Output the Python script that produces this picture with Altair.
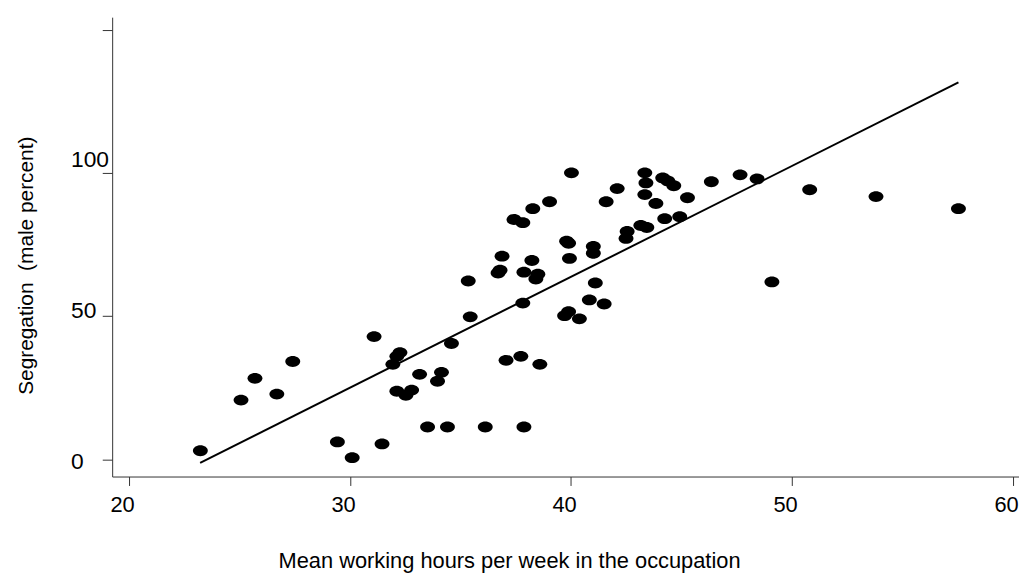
import altair as alt
import pandas as pd

# Mean working hours per week (x) and segregation, male percent (y)
hours = [23.23, 25.07, 25.70, 26.69, 27.41, 29.43, 30.10, 31.09, 31.45, 31.94,
         32.12, 32.26, 32.12, 32.53, 32.79, 33.15, 34.14, 33.96, 34.59, 33.51,
         34.41, 36.12, 37.87, 35.35, 35.44, 36.88, 36.70, 36.79, 38.23, 37.87,
         38.50, 38.41, 37.82, 37.06, 37.73, 38.59, 39.93, 41.01, 41.01, 41.10,
         40.83, 41.50, 39.71, 39.89, 40.38, 39.80, 39.89, 40.02, 43.34, 43.39,
         44.15, 44.38, 44.65, 46.35, 47.65, 48.42, 42.09, 41.59, 39.03, 38.27,
         37.42, 37.82, 43.34, 43.84, 45.27, 44.24, 44.92, 42.54, 42.49, 43.16,
         43.43, 50.80, 53.80, 57.53, 49.09]
segregation = [3.0, 20.7, 28.3, 22.8, 34.2, 6.1, 0.6, 42.9, 5.4, 33.2,
               36.0, 37.3, 23.8, 22.4, 24.2, 29.7, 30.4, 27.3, 40.5, 11.3,
               11.3, 11.3, 11.3, 62.3, 49.8, 71.0, 65.1, 66.1, 69.5, 65.4,
               64.7, 63.0, 54.6, 34.6, 36.0, 33.2, 70.2, 72.0, 74.4, 61.6,
               55.7, 54.3, 50.2, 51.6, 49.1, 76.2, 75.5, 100.1, 100.1, 96.6,
               98.3, 97.3, 95.6, 97.0, 99.4, 98.0, 94.6, 90.0, 90.0, 87.6,
               83.8, 82.7, 92.5, 89.4, 91.4, 84.1, 84.8, 79.6, 77.2, 81.7,
               81.0, 94.2, 91.8, 87.6, 62.0]

# fitted line end points
fit_x = [23.22, 57.53]
fit_y = [-1.25, 131.7]

x_ticks = [20, 30, 40, 50, 60]
y_ticks = [0, 50, 100, 150]

pts = pd.DataFrame({"x": hours, "y": segregation})
fit = pd.DataFrame({"x": fit_x, "y": fit_y})

FONT = "Liberation Sans"
xscale = alt.Scale(domain=[19.24, 60.27], nice=False, zero=False)
yscale = alt.Scale(domain=[-6.0, 154.5], nice=False, zero=False)

xaxis = alt.Axis(
    values=x_ticks, grid=False, tickSize=9, tickColor="#333", domainColor="#333",
    labelFont=FONT, labelFontSize=22, labelColor="#000", labelPadding=9,
    labelOffset=-7, labelFlush=False,
    title="Mean working hours per week in the occupation",
    titleFont=FONT, titleFontSize=22, titleFontWeight="normal", titleColor="#000",
    titleX=400, titleY=92, titleAlign="center", titleBaseline="alphabetic",
)
yaxis = alt.Axis(
    values=y_ticks, grid=False, tickSize=10, tickColor="#333", domainColor="#333",
    labelFont=FONT, labelFontSize=23, labelColor="#000",
    labelExpr="datum.value == 150 ? '' : datum.label",
    labelAlign="left", labelPadding=32, labelFlush=False,
    labelOffset={"condition": [{"test": "datum.value == 100", "value": -14},
                               {"test": "datum.value == 50", "value": -6}],
                 "value": 2},
    title="Segregation\u00a0 (male percent)",
    titleFont=FONT, titleFontSize=21, titleFontWeight="normal", titleColor="#000",
    titleX=-80, titleY=250, titleAngle=-90, titleAlign="center",
    titleBaseline="alphabetic",
)

ellipse = "M-1,0A1,0.73,0,1,1,1,0A1,0.73,0,1,1,-1,0Z"

points = alt.Chart(pts).mark_point(
    shape=ellipse, size=225, filled=True, color="#000", opacity=1
).encode(
    x=alt.X("x:Q", scale=xscale, axis=xaxis),
    y=alt.Y("y:Q", scale=yscale, axis=yaxis),
)

line = alt.Chart(fit).mark_line(color="#000", strokeWidth=2).encode(
    x=alt.X("x:Q", scale=xscale),
    y=alt.Y("y:Q", scale=yscale),
)

chart = alt.layer(points, line).properties(
    width=914, height=463,
    autosize=alt.AutoSizeParams(type="none"),
    padding={"left": 105, "top": 7, "right": 0, "bottom": 96},
    background="white",
).configure_view(stroke=None)

chart.save("out.html", embed_options={"renderer": "svg", "actions": False})
